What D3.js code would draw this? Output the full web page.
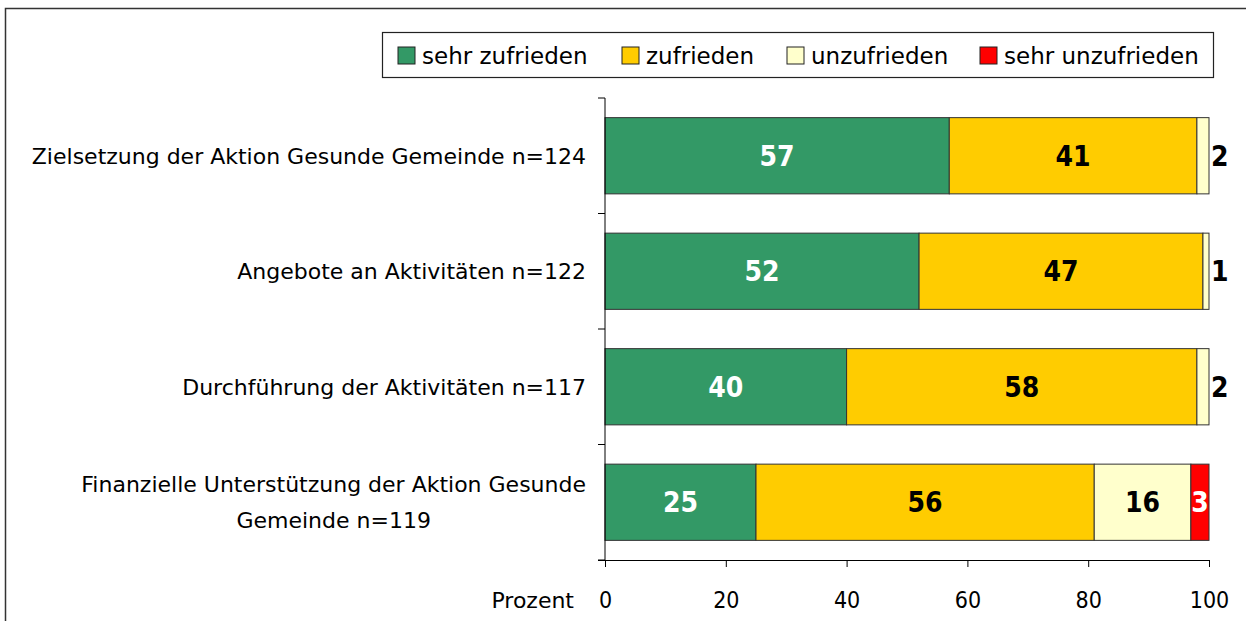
<!DOCTYPE html>
<html>
<head>
<meta charset="utf-8">
<script src="https://cdn.jsdelivr.net/npm/d3@7"></script>
<style>
  body { margin: 0; background: #fff; }
  svg { display: block; font-family: "DejaVu Sans", sans-serif; }
</style>
</head>
<body>
<svg id="chart" width="1246" height="621"></svg>
<script>
// categories (top to bottom), label lines
const categories = [
  ["Zielsetzung der Aktion Gesunde Gemeinde n=124"],
  ["Angebote an Aktivitäten n=122"],
  ["Durchführung der Aktivitäten n=117"],
  ["Finanzielle Unterstützung der Aktion Gesunde", "Gemeinde n=119"]
];
const seriesNames = ["sehr zufrieden", "zufrieden", "unzufrieden", "sehr unzufrieden"];
const sehrZufrieden = [57, 52, 40, 25];
const zufrieden = [41, 47, 58, 56];
const unzufrieden = [2, 1, 2, 16];
const sehrUnzufrieden = [0, 0, 0, 3];
const xTicks = [0, 20, 40, 60, 80, 100];

const colors = ["#339966", "#ffcc00", "#ffffcc", "#ff0000"];
const labelColors = ["#fff", "#000", "#000", "#fff"];

const svg = d3.select("#chart");

// outer frame
svg.append("rect")
  .attr("x", 5.5).attr("y", 8.5)
  .attr("width", 1300).attr("height", 700)
  .attr("fill", "none").attr("stroke", "#333").attr("stroke-width", 1.5);

const x = d3.scaleLinear().domain([0, 100]).range([605, 1209]);
const y = d3.scaleBand().domain(d3.range(categories.length)).range([98, 560]).paddingInner(0.34).paddingOuter(0.17);

// stacked data
const rows = categories.map((c, i) => ({
  i,
  vals: [sehrZufrieden[i], zufrieden[i], unzufrieden[i], sehrUnzufrieden[i]]
}));

const segs = [];
rows.forEach(r => {
  let acc = 0;
  r.vals.forEach((v, k) => {
    if (v > 0) segs.push({ row: r.i, k, v, x0: acc, x1: acc + v });
    acc += v;
  });
});

svg.append("g").selectAll("rect")
  .data(segs)
  .join("rect")
  .attr("x", d => x(d.x0))
  .attr("y", d => y(d.row))
  .attr("width", d => x(d.x1) - x(d.x0))
  .attr("height", y.bandwidth())
  .attr("fill", d => colors[d.k])
  .attr("stroke", "#333")
  .attr("stroke-width", 1);

// value labels (tiny segments get their label outside the bar)
svg.append("g").selectAll("text")
  .data(segs)
  .join("text")
  .attr("x", d => d.v <= 2 ? x(100) + 2 : x((d.x0 + d.x1) / 2))
  .attr("y", d => y(d.row) + y.bandwidth() / 2)
  .attr("dy", "0.36em")
  .attr("text-anchor", d => d.v <= 2 ? "start" : "middle")
  .attr("font-family", "'DejaVu Sans Condensed', 'DejaVu Sans', sans-serif")
  .attr("font-weight", "bold")
  .attr("font-size", 28)
  .attr("fill", d => d.v <= 2 ? "#000" : labelColors[d.k])
  .text(d => d.v);

// y axis
const yAxis = svg.append("g").attr("transform", `translate(${x(0)},0)`);
yAxis.append("line").attr("x1", 0).attr("x2", 0).attr("y1", 98).attr("y2", 560).attr("stroke", "#000");
yAxis.selectAll("line.tick")
  .data(d3.range(categories.length + 1))
  .join("line")
  .attr("class", "tick")
  .attr("x1", -7).attr("x2", 0)
  .attr("y1", i => 98 + i * y.step())
  .attr("y2", i => 98 + i * y.step())
  .attr("stroke", "#000");

// category labels: block right-aligned, lines centred within the block
const labelRight = 586;
const catG = svg.append("g").selectAll("text")
  .data(categories)
  .join("text")
  .attr("font-size", 22)
  .attr("fill", "#000");
catG.each(function(lines, i) {
  const cy = y(i) + y.bandwidth() / 2;
  const lh = 36;
  const top = cy - (lines.length - 1) * lh / 2;
  const t = d3.select(this);
  const spans = t.selectAll("tspan")
    .data(lines)
    .join("tspan")
    .attr("y", (l, j) => top + j * lh)
    .attr("dy", "0.36em")
    .text(l => l);
  let maxW = 0;
  spans.each(function() { maxW = Math.max(maxW, this.getComputedTextLength()); });
  t.attr("text-anchor", "middle");
  spans.attr("x", labelRight - maxW / 2);
});

// x axis
const xAxis = d3.axisBottom(x).tickValues(xTicks).tickSize(7).tickSizeOuter(0).tickPadding(25);
const xg = svg.append("g").attr("transform", "translate(0,560)").call(xAxis);
xg.select(".domain").attr("stroke", "#000");
xg.selectAll(".tick line").attr("stroke", "#000");
xg.selectAll(".tick text")
  .attr("font-size", 23)
  .attr("font-family", "'DejaVu Sans Condensed', 'DejaVu Sans', sans-serif")
  .attr("fill", "#000");
xg.select(".domain").attr("d", `M${x(0) - 7},0.5H${x(100)}`);

svg.append("text")
  .attr("x", 574).attr("y", 608)
  .attr("text-anchor", "end")
  .attr("font-size", 22)
  .text("Prozent");

// legend
const lg = svg.append("g");
lg.append("rect")
  .attr("x", 382.5).attr("y", 32.5).attr("width", 831).attr("height", 45)
  .attr("fill", "#fff").attr("stroke", "#222").attr("stroke-width", 1.2);
const legX = [398, 622, 787, 980];
const items = lg.selectAll("g.item")
  .data(seriesNames)
  .join("g")
  .attr("class", "item")
  .attr("transform", (d, i) => `translate(${legX[i]},47)`);
items.append("rect")
  .attr("width", 17).attr("height", 17)
  .attr("fill", (d, i) => colors[i])
  .attr("stroke", "#222");
items.append("text")
  .attr("x", 24).attr("y", 8.5).attr("dy", "0.36em")
  .attr("font-size", 23)
  .text(d => d);
</script>
</body>
</html>
